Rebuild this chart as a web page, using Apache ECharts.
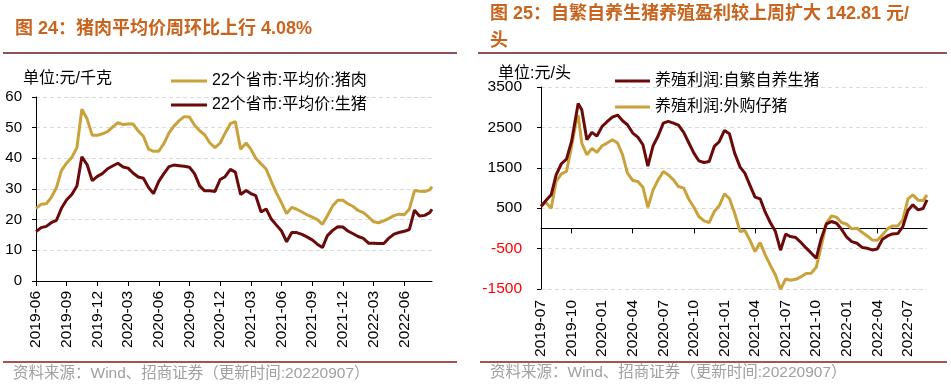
<!DOCTYPE html>
<html><head><meta charset="utf-8">
<script src="https://cdn.jsdelivr.net/npm/echarts@6/dist/echarts.min.js"></script>
<style>html,body{margin:0;padding:0;background:#fff}#c{width:951px;height:388px}</style>
</head><body><div id="c"></div>
<script>
// ---------- Left chart data (元/千克) ----------
const leftDates = [
'2019-06-01','2019-06-16','2019-07-01','2019-07-16','2019-08-01','2019-08-16','2019-09-01','2019-09-16',
'2019-10-01','2019-10-16','2019-11-01','2019-11-16','2019-12-01','2019-12-16',
'2020-01-01','2020-01-16','2020-02-01','2020-02-16','2020-03-01','2020-03-16','2020-04-01','2020-04-16',
'2020-05-01','2020-05-16','2020-06-01','2020-06-16','2020-07-01','2020-07-16','2020-08-01','2020-08-16',
'2020-09-01','2020-09-16','2020-10-01','2020-10-16','2020-11-01','2020-11-16','2020-12-01','2020-12-16',
'2021-01-01','2021-01-16','2021-02-01','2021-02-16','2021-03-01','2021-03-16','2021-04-01','2021-04-16',
'2021-05-01','2021-05-16','2021-06-01','2021-06-16','2021-07-01','2021-07-16','2021-08-01','2021-08-16',
'2021-09-01','2021-09-16','2021-10-01','2021-10-16','2021-11-01','2021-11-16','2021-12-01','2021-12-16',
'2022-01-01','2022-01-16','2022-02-01','2022-02-16','2022-03-01','2022-03-16','2022-04-01','2022-04-16',
'2022-05-01','2022-05-16','2022-06-01','2022-06-16','2022-07-01','2022-07-16','2022-08-01','2022-08-16','2022-08-23'];
const porkPrice = [
23.7,25.0,25.2,27.2,30.5,36.0,38.5,40.3,43.5,56.0,52.8,47.5,47.5,48.0,
48.7,50.2,51.6,51.0,51.2,51.2,48.9,47.2,43.0,42.3,42.3,44.8,48.3,50.5,52.3,53.6,
53.5,50.8,49.0,47.7,45.0,43.5,45.0,48.2,51.3,52.0,43.0,45.0,43.0,40.0,38.2,36.5,
32.5,28.8,25.5,22.0,24.0,23.4,22.5,21.6,20.8,20.0,18.5,21.3,24.5,26.3,26.3,25.2,
24.3,23.0,22.3,20.8,19.3,19.0,19.6,20.4,21.3,21.8,21.6,23.5,29.5,29.3,29.2,29.7,30.8];
const hogPrice = [
16.1,17.4,17.8,19.0,19.8,23.7,26.5,28.2,31.0,40.5,37.9,32.7,34.1,35.0,
36.6,37.5,38.4,37.2,36.8,35.2,33.9,33.5,30.5,28.5,32.5,35.0,37.3,37.8,37.6,37.4,
37.1,35.0,31.0,29.4,29.4,29.2,33.1,34.0,36.4,35.5,28.2,29.5,28.5,27.8,22.5,23.5,
20.2,18.3,16.3,12.8,15.8,15.8,15.2,14.4,13.4,12.0,10.9,14.8,16.5,17.7,17.6,16.3,
15.4,14.5,13.9,12.3,12.3,12.2,12.2,14.0,15.3,15.8,16.2,16.8,23.1,21.2,21.4,22.3,23.4];
const leftTickLabels = ['2019-06','2019-09','2019-12','2020-03','2020-06','2020-09','2020-12',
'2021-03','2021-06','2021-09','2021-12','2022-03','2022-06'];

// ---------- Right chart data (元/头) ----------
const rightDates = [
'2019-07-01','2019-07-16','2019-08-01','2019-08-16','2019-09-01','2019-09-16','2019-10-01','2019-10-16','2019-10-21',
'2019-11-01','2019-11-16','2019-12-01','2019-12-16',
'2020-01-01','2020-01-16','2020-02-01','2020-02-16','2020-03-01','2020-03-16','2020-04-01','2020-04-16',
'2020-05-01','2020-05-16','2020-06-01','2020-06-16','2020-07-01','2020-07-16','2020-08-01','2020-08-16',
'2020-09-01','2020-09-16','2020-10-01','2020-10-16','2020-11-01','2020-11-16','2020-12-01','2020-12-16',
'2021-01-01','2021-01-16','2021-02-01','2021-02-16','2021-03-01','2021-03-16','2021-04-01','2021-04-16',
'2021-05-01','2021-05-16','2021-06-01','2021-06-16','2021-07-01','2021-07-16','2021-08-01','2021-08-16',
'2021-09-01','2021-09-16','2021-10-01','2021-10-16','2021-11-01','2021-11-16','2021-12-01','2021-12-16',
'2022-01-01','2022-01-16','2022-02-01','2022-02-16','2022-03-01','2022-03-16','2022-04-01','2022-04-16',
'2022-05-01','2022-05-16','2022-06-01','2022-06-16','2022-07-01','2022-07-16','2022-08-01','2022-08-16','2022-08-28'];
const profitSelfBred = [
542,690,831,1327,1600,1715,2153,2855,3090,2938,2195,2376,2285,
2525,2640,2756,2806,2665,2566,2360,2260,2070,1540,2046,2294,2607,2649,2607,2558,
2376,2120,1864,1673,1632,1657,2029,2145,2426,2343,1864,1517,1368,1079,773,732,
401,153,-78,-540,-144,-202,-227,-343,-483,-607,-740,-260,112,170,128,-20,
-218,-326,-367,-475,-492,-533,-508,-268,-186,-136,-128,46,442,583,459,492,707];
const profitBoughtPiglet = [
558,641,500,1161,1351,1409,2029,2700,2800,2112,1822,1980,1880,
2046,2112,2195,2112,1822,1368,1186,1161,1021,520,955,1203,1409,1327,1203,1037,
996,723,525,294,186,145,418,558,855,740,376,-78,-53,-285,-574,-351,
-657,-905,-1152,-1508,-1252,-1285,-1260,-1202,-1119,-1111,-963,-450,128,310,277,145,
104,-12,4,-103,-186,-285,-293,-161,-12,62,62,211,732,831,699,690,831];
const rightTickLabels = ['2019-07','2019-10','2020-01','2020-04','2020-07','2020-10','2021-01',
'2021-04','2021-07','2021-10','2022-01','2022-04','2022-07'];
const rightZeroTicks = ['2019-10','2020-04','2020-10','2021-04','2021-10','2022-04'];
const rightYTicks = [-1500,-500,500,1500,2500,3500];

// ---------- helpers ----------
function toMonths(s, base) {
  const p = s.split('-').map(Number);
  const b = base.split('-').map(Number);
  const d = p[2] || 1;
  const dim = new Date(p[0], p[1], 0).getDate();
  return (p[0] - b[0]) * 12 + (p[1] - b[1]) + (d - 1) / dim;
}
const LB = '2019-06', RB = '2019-07';
const pair = (dates, vals, base) => dates.map((d, i) => [toMonths(d, base), vals[i]]);
const leftMax = toMonths(leftDates[leftDates.length - 1], LB);
const rightMax = toMonths(rightDates[rightDates.length - 1], RB);
const leftTickVals = leftTickLabels.map(s => toMonths(s, LB));
const rightTickVals = rightTickLabels.map(s => toMonths(s, RB));
const rightZeroVals = rightZeroTicks.map(s => toMonths(s, RB));
const labelFor = (vals, labels) => v => { const i = vals.findIndex(x => Math.abs(x - v) < 1e-6); return i >= 0 ? labels[i] : ''; };

const GOLD = '#C9A23C', DARK = '#6B0A0A';
const NUM = '"Liberation Sans", Arial, sans-serif';
const CJK = '"Liberation Sans", "Noto Sans CJK SC", sans-serif';
const split = { show: true, lineStyle: { color: '#DADADA', type: [4, 3], width: 1 } };

const chart = echarts.init(document.getElementById('c'), null, { renderer: 'canvas' });
chart.setOption({
  animation: false,
  backgroundColor: '#fff',
  grid: [
    { left: 36, top: 97, width: 396, height: 184 },
    { left: 541, top: 87, width: 386, height: 202 }
  ],
  xAxis: [
    { gridIndex: 0, type: 'value', min: 0, max: leftMax, position: 'bottom',
      axisLine: { show: true, onZero: false, lineStyle: { color: '#000', width: 1 } },
      axisTick: { show: true, length: 5, customValues: leftTickVals, lineStyle: { color: '#000' } },
      axisLabel: { customValues: leftTickVals, formatter: labelFor(leftTickVals, leftTickLabels), rotate: 90,
        margin: 10, fontSize: 15.5, color: '#000', fontFamily: NUM },
      splitLine: { show: false } },
    { gridIndex: 1, type: 'value', min: 0, max: rightMax, position: 'bottom',
      axisLine: { show: false, onZero: false }, axisTick: { show: false },
      axisLabel: { customValues: rightTickVals, formatter: labelFor(rightTickVals, rightTickLabels), rotate: 90,
        margin: 11, fontSize: 15.5, color: '#000', fontFamily: NUM },
      splitLine: { show: false } },
    { gridIndex: 1, type: 'value', min: 0, max: rightMax, position: 'top',
      axisLine: { show: true, onZero: true, lineStyle: { color: '#000', width: 1 } },
      axisTick: { show: true, inside: true, length: 5, customValues: rightZeroVals, lineStyle: { color: '#000' } },
      axisLabel: { show: false }, splitLine: { show: false } }
  ],
  yAxis: [
    { gridIndex: 0, type: 'value', min: 0, max: 60, interval: 10,
      axisLine: { show: true, onZero: false, lineStyle: { color: '#000', width: 1 } },
      axisTick: { show: true, length: 4, lineStyle: { color: '#000' } },
      axisLabel: { margin: 14, fontSize: 15, color: '#000', fontFamily: NUM, formatter: v => String(v) },
      splitLine: split },
    { gridIndex: 1, type: 'value', min: -1500, max: 3500, interval: 1000,
      axisLine: { show: true, onZero: false, lineStyle: { color: '#000', width: 1 } },
      axisTick: { show: true, length: 4, customValues: rightYTicks, lineStyle: { color: '#000' } },
      axisLabel: { customValues: rightYTicks, margin: 19, fontSize: 15.5, fontFamily: NUM,
        formatter: v => String(Math.round(Number(v))),
        color: v => (Number(v) < 0 ? '#FF0000' : '#000') },
      splitLine: split }
  ],
  legend: [
    { data: ['22个省市:平均价:猪肉'], left: 171, top: 73, orient: 'vertical', icon: 'rect', itemWidth: 36, itemHeight: 3,
      selectedMode: false, padding: 0, textStyle: { fontSize: 16, color: '#000', fontFamily: CJK } },
    { data: ['22个省市:平均价:生猪'], left: 171, top: 97, orient: 'vertical', icon: 'rect', itemWidth: 36, itemHeight: 3,
      selectedMode: false, padding: 0, textStyle: { fontSize: 16, color: '#000', fontFamily: CJK } },
    { data: ['养殖利润:自繁自养生猪'], left: 615, top: 73, orient: 'vertical', icon: 'rect', itemWidth: 35, itemHeight: 3,
      selectedMode: false, padding: 0, textStyle: { fontSize: 16, color: '#000', fontFamily: CJK } },
    { data: ['养殖利润:外购仔猪'], left: 615, top: 99, orient: 'vertical', icon: 'rect', itemWidth: 35, itemHeight: 3,
      selectedMode: false, padding: 0, textStyle: { fontSize: 16, color: '#000', fontFamily: CJK } }
  ],
  series: [
    { name: '22个省市:平均价:猪肉', type: 'line', xAxisIndex: 0, yAxisIndex: 0, data: pair(leftDates, porkPrice, LB),
      showSymbol: false, symbol: 'none', color: GOLD, lineStyle: { width: 3, color: GOLD } },
    { name: '22个省市:平均价:生猪', type: 'line', xAxisIndex: 0, yAxisIndex: 0, data: pair(leftDates, hogPrice, LB),
      showSymbol: false, symbol: 'none', color: DARK, lineStyle: { width: 3, color: DARK } },
    { name: '养殖利润:自繁自养生猪', type: 'line', xAxisIndex: 1, yAxisIndex: 1, data: pair(rightDates, profitSelfBred, RB),
      showSymbol: false, symbol: 'none', color: DARK, lineStyle: { width: 3, color: DARK }, z: 3 },
    { name: '养殖利润:外购仔猪', type: 'line', xAxisIndex: 1, yAxisIndex: 1, data: pair(rightDates, profitBoughtPiglet, RB),
      showSymbol: false, symbol: 'none', color: GOLD, lineStyle: { width: 3, color: GOLD }, z: 2 }
  ],
  graphic: [
    { type: 'text', left: 15, top: 20, style: { text: '图 24：猪肉平均价周环比上行 4.08%', fill: '#C8641E',
      font: 'bold 18px ' + CJK } },
    { type: 'text', left: 490, top: 5, style: { text: '图 25：自繁自养生猪养殖盈利较上周扩大 142.81 元/', fill: '#C8641E',
      font: 'bold 18px ' + CJK } },
    { type: 'text', left: 490, top: 32, style: { text: '头', fill: '#C8641E', font: 'bold 18px ' + CJK } },
    { type: 'line', shape: { x1: 3, y1: 53, x2: 457, y2: 53 }, style: { stroke: '#6B1A1A', lineWidth: 1.5 } },
    { type: 'line', shape: { x1: 478, y1: 53, x2: 947, y2: 53 }, style: { stroke: '#6B1A1A', lineWidth: 1.5 } },
    { type: 'text', left: 23, top: 71, style: { text: '单位:元/千克', fill: '#000', font: '16px ' + CJK } },
    { type: 'text', left: 498, top: 66, style: { text: '单位:元/头', fill: '#000', font: '16px ' + CJK } },
    { type: 'line', shape: { x1: 3, y1: 362, x2: 457, y2: 362 }, style: { stroke: '#8B1A1A', lineWidth: 1.5 } },
    { type: 'line', shape: { x1: 480, y1: 362, x2: 947, y2: 362 }, style: { stroke: '#8B1A1A', lineWidth: 1.5 } },
    { type: 'text', left: 13, top: 366, style: { text: '资料来源：Wind、招商证券（更新时间:20220907）', fill: '#A0A0A0', font: '15.5px ' + CJK } },
    { type: 'text', left: 490, top: 365, style: { text: '资料来源：Wind、招商证券（更新时间:20220907）', fill: '#A0A0A0', font: '15.5px ' + CJK } }
  ]
});
</script></body></html>
